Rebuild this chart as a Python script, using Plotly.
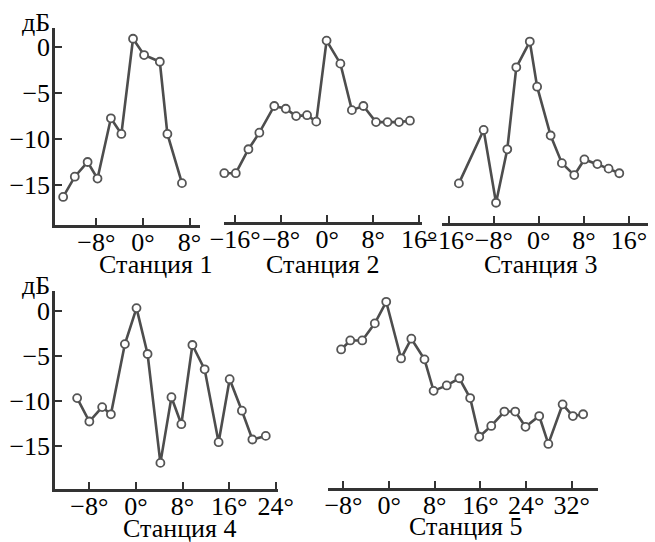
import plotly.graph_objects as go

W, H = 655, 542

# ---- data (angle in degrees, level in dB) ----
st1_deg = [-13.7, -11.7, -9.5, -7.8, -5.5, -3.7, -1.7, 0.2, 2.9, 4.2, 6.7]
st1_db = [-16.3, -14.1, -12.5, -14.3, -7.75, -9.45, 0.9, -0.87, -1.6, -9.45, -14.8]

st2_deg = [-17.9, -15.9, -13.7, -11.8, -9.2, -7.2, -5.4, -3.5, -1.9, -0.1, 2.3, 4.3, 6.3, 8.5, 10.5, 12.5, 14.4]
st2_db = [-13.7, -13.7, -11.1, -9.3, -6.4, -6.7, -7.5, -7.4, -8.1, 0.7, -1.8, -6.85, -6.4, -8.15, -8.15, -8.15, -8.0]

st3_deg = [-14.2, -9.8, -7.6, -5.6, -4.0, -1.6, -0.3, 2.1, 4.1, 6.3, 8.1, 10.4, 12.4, 14.3]
st3_db = [-14.8, -9.0, -16.9, -11.1, -2.2, 0.6, -4.3, -9.6, -12.6, -13.9, -12.2, -12.7, -13.2, -13.7]

st4_deg = [-10.1, -8.0, -5.8, -4.3, -1.9, 0.1, 2.0, 4.2, 6.1, 7.8, 9.7, 11.8, 14.2, 16.1, 18.2, 20.0, 22.3]
st4_db = [-9.7, -12.3, -10.7, -11.5, -3.7, 0.3, -4.8, -16.9, -9.6, -12.6, -3.8, -6.5, -14.6, -7.6, -11.1, -14.3, -13.9]

st5_deg = [-8.4, -6.8, -4.7, -2.5, -0.5, 2.1, 3.9, 6.2, 7.8, 10.1, 12.3, 14.2, 15.8, 17.9, 20.2, 22.1, 23.9, 26.3, 27.9, 30.4, 32.2, 34.0]
st5_db = [-4.3, -3.3, -3.3, -1.4, 1.0, -5.3, -3.1, -5.4, -8.9, -8.3, -7.5, -9.7, -14.0, -12.8, -11.2, -11.2, -12.9, -11.7, -14.8, -10.4, -11.7, -11.5]

station_names = ["Станция 1", "Станция 2", "Станция 3", "Станция 4", "Станция 5"]
db_unit = "дБ"

y_tickvals = [0, -5, -10, -15]
y_ticktext = ["0", "−5", "−10", "−15"]

x1_tickvals = [-8, 0, 8]
x1_ticktext = ["−8°", "0°", "8°"]
x2_tickvals = [-16, -8, 0, 8, 16]
x2_ticktext = ["−16°", "−8°", "0°", "8°", "16°"]
x3_tickvals = [-16, -8, 0, 8, 16]
x3_ticktext = ["−16°", "−8°", "0°", "8°", "16°"]
x4_tickvals = [-8, 0, 8, 16, 24]
x4_ticktext = ["−8°", "0°", "8°", "16°", "24°"]
x5_tickvals = [-8, 0, 8, 16, 24, 32]
x5_ticktext = ["−8°", "0°", "8°", "16°", "24°", "32°"]

series = [(st1_deg, st1_db), (st2_deg, st2_db), (st3_deg, st3_db), (st4_deg, st4_db), (st5_deg, st5_db)]
xticks = [(x1_tickvals, x1_ticktext), (x2_tickvals, x2_ticktext), (x3_tickvals, x3_ticktext),
          (x4_tickvals, x4_ticktext), (x5_tickvals, x5_ticktext)]

# ---- layout geometry (pixels) ----
# (x0, x1, y_top, y_bottom, xrange, yrange, show_y)
panels = [
    (55, 200, 28, 225, [-15.1, 9.8], [-19.35, 2.07], True),
    (224, 422, 28, 222, [-17.95, 16.5], [-19.0, 2.07], False),
    (442, 648, 28, 223, [-17.2, 19.4], [-19.1, 2.07], False),
    (55, 278, 291, 489, [-13.9, 24.4], [-19.8, 2.2], True),
    (328, 598, 291, 488, [-10.7, 36.6], [-19.7, 2.2], False),
]

FONT = '"Times New Roman", "Liberation Serif", "DejaVu Serif", serif'
FS = 26
AX_COLOR = "#333333"
LINE_COLOR = "#4d4d4d"

fig = go.Figure()
layout = dict(
    width=W, height=H, margin=dict(l=0, r=0, t=0, b=0, autoexpand=False),
    paper_bgcolor="white", plot_bgcolor="white", showlegend=False,
    font=dict(family=FONT, size=FS, color="black"),
)

for i, ((x0, x1, yt, yb, xr, yr, showy), (xs, ys), (tv, tt)) in enumerate(zip(panels, series, xticks)):
    n = "" if i == 0 else str(i + 1)
    fig.add_trace(go.Scatter(
        x=xs, y=ys, mode="lines+markers",
        xaxis="x" + n, yaxis="y" + n,
        line=dict(color=LINE_COLOR, width=2.6),
        marker=dict(symbol="circle", size=8, color="white",
                    line=dict(color="#555555", width=1.8)),
        cliponaxis=False,
    ))
    layout["xaxis" + n] = dict(
        domain=[x0 / W, x1 / W], range=xr, anchor="y" + n, automargin=False,
        showgrid=False, zeroline=False, showline=True, linecolor=AX_COLOR, linewidth=2.5,
        ticks="inside", ticklen=7, tickwidth=2, tickcolor=AX_COLOR,
        tickmode="array", tickvals=tv, ticktext=tt, ticklabelstandoff=-8, tickangle=0,
        tickfont=dict(family=FONT, size=FS, color="black"),
    )
    layout["yaxis" + n] = dict(
        domain=[1 - yb / H, 1 - yt / H], range=yr, anchor="x" + n, automargin=False,
        showgrid=False, zeroline=False, showline=showy, linecolor=AX_COLOR, linewidth=2.5,
        ticks="inside" if showy else "", ticklen=7, tickwidth=2, tickcolor=AX_COLOR,
        showticklabels=showy, ticklabelstandoff=-3,
        tickmode="array", tickvals=y_tickvals, ticktext=y_ticktext,
        tickfont=dict(family=FONT, size=FS, color="black"),
    )

anns = []
label_pos = [(155, 265), (322, 265), (540, 265), (179, 528), (465, 526)]
for name, (cx, cy) in zip(station_names, label_pos):
    anns.append(dict(text=name, x=cx / W, y=1 - cy / H, xref="paper", yref="paper",
                     showarrow=False, xanchor="center", yanchor="middle",
                     font=dict(family=FONT, size=FS, color="black")))
for cx, cy in [(36, 22), (36, 285)]:
    anns.append(dict(text=db_unit, x=cx / W, y=1 - cy / H, xref="paper", yref="paper",
                     showarrow=False, xanchor="center", yanchor="middle",
                     font=dict(family=FONT, size=FS, color="black")))
layout["annotations"] = anns

fig.update_layout(**layout)
fig.write_html("out.html", config={"displayModeBar": False},
               post_script="document.body.style.margin='0';document.body.style.padding='0';")
